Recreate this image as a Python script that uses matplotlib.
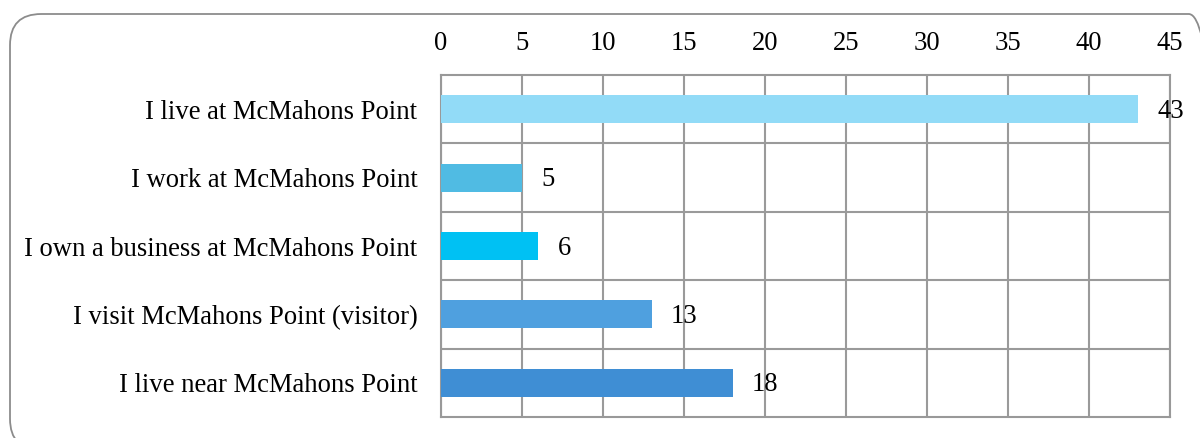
import matplotlib
matplotlib.use("Agg")
import matplotlib.pyplot as plt
from matplotlib.patches import FancyBboxPatch

# 数据
categories = [
    "I live at McMahons Point",
    "I work at McMahons Point",
    "I own a business at McMahons Point",
    "I visit McMahons Point (visitor)",
    "I live near McMahons Point",
]
counts = [43, 5, 6, 13, 18]
bar_colors = ["#92DBF7", "#50BBE3", "#00C1F3", "#4FA0DF", "#3F8ED4"]
x_ticks = [0, 5, 10, 15, 20, 25, 30, 35, 40, 45]

W, H = 1200, 438
FS = 19.2
plt.rcParams["font.family"] = ["Liberation Serif", "DejaVu Serif"]

fig = plt.figure(figsize=(W / 100, H / 100), dpi=100)

# 圆角外框
box = FancyBboxPatch((10 / W, 1 - 450 / H), 1210 / W, 436 / H,
                     boxstyle="round,pad=0,rounding_size=0.026",
                     transform=fig.transFigure, facecolor="none",
                     edgecolor="#8C8C8C", linewidth=1.3, mutation_aspect=W / H)
fig.patches.append(box)

ax = fig.add_axes([441 / W, 1 - 417 / H, (1170 - 441) / W, (417 - 75) / H])
y = list(range(len(categories)))
ax.barh(y, counts, height=0.41, color=bar_colors, zorder=3)

for yi, v in zip(y, counts):
    ax.text(v + 1.2, yi + 0.03, str(v), va="center", ha="left", fontsize=FS, zorder=4)

ax.set_xlim(0, 45)
ax.set_ylim(len(categories) - 0.5, -0.5)
ax.set_xticks(x_ticks)
ax.set_yticks(y)
ax.set_yticklabels(categories)
ax.xaxis.tick_top()
ax.tick_params(axis="x", length=0, pad=14, labelsize=FS)
ax.tick_params(axis="y", length=0, pad=17, labelsize=FS)

# 网格：竖线在刻度，横线在类别边界
ax.set_yticks([i + 0.5 for i in range(len(categories) - 1)], minor=True)
ax.grid(True, axis="x", which="major", color="#9A9A9A", linewidth=1.5, zorder=0)
ax.grid(True, axis="y", which="minor", color="#9A9A9A", linewidth=1.5, zorder=0)
ax.tick_params(axis="y", which="minor", length=0)
for s in ax.spines.values():
    s.set_color("#999999")
    s.set_linewidth(1.5)

fig.savefig("out.png", dpi=100)
